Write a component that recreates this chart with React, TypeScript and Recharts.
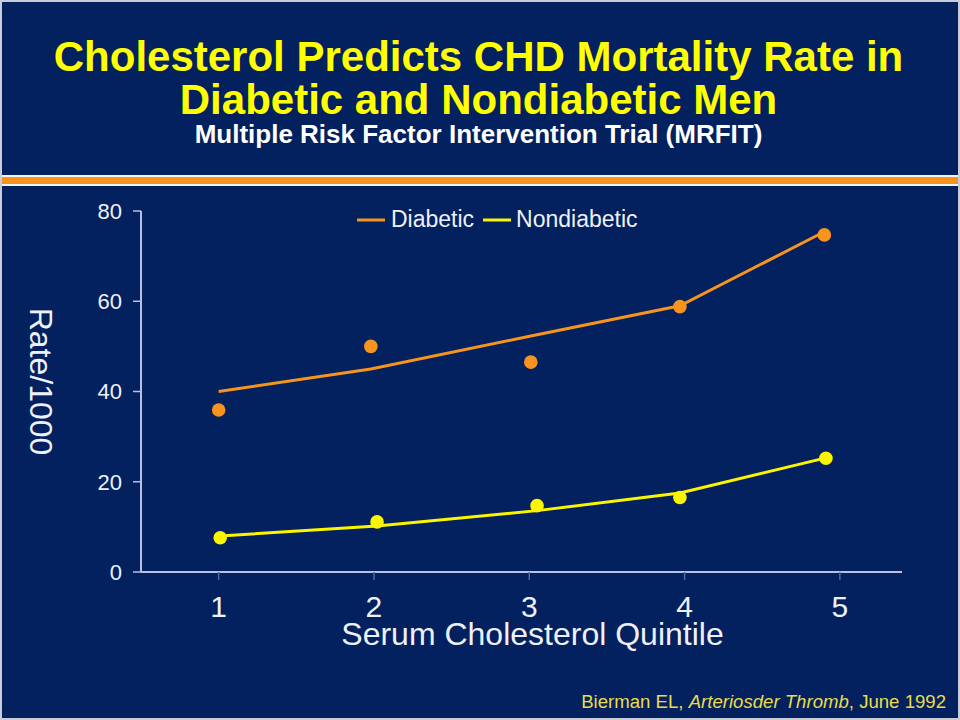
import { ComposedChart, Line, Scatter, XAxis, YAxis, Legend } from "recharts";

// quintile ticks and rate ticks
const quintiles = [1, 2, 3, 4, 5];
const rateTicks = [0, 20, 40, 60, 80];

// where each quintile point sits along the axis, as drawn
const diabeticX = [1.0, 1.98, 3.01, 3.97, 4.9];
const diabeticRates = [35.9, 50.0, 46.5, 58.8, 74.7];
const diabeticFit = [40.0, 45.0, 52.3, 59.0, 75.4];

const nondiabeticX = [1.01, 2.02, 3.05, 3.97, 4.91];
const nondiabeticRates = [7.6, 11.1, 14.7, 16.5, 25.2];
const nondiabeticFit = [8.0, 10.2, 13.6, 17.5, 25.3];

const BG = "#03205f";
const ORANGE = "#f6941e";
const YELLOW = "#fbf500";
const AXIS = "#b9c1dc";
const TEXT = "#eef1f8";
const SANS = "'Liberation Sans', Arial, sans-serif";

const diabeticPoints = diabeticX.map((x, i) => ({
  x,
  rate: diabeticRates[i],
  fit: diabeticFit[i],
}));
const nondiabeticPoints = nondiabeticX.map((x, i) => ({
  x,
  rate: nondiabeticRates[i],
  fit: nondiabeticFit[i],
}));

const dot = (color: string) => (props: any) =>
  <circle cx={props.cx} cy={props.cy} r={6.8} fill={color} />;

const YTitle = (props: any) => {
  const vb = props.viewBox;
  const x = vb.x + 41;
  const y = vb.y + vb.height / 2 - 10;
  return (
    <text
      x={x}
      y={y}
      transform={`rotate(90 ${x} ${y})`}
      textAnchor="middle"
      dominantBaseline="central"
      fill={TEXT}
      fontSize={32}
      fontFamily={SANS}
    >
      Rate/1000
    </text>
  );
};

const XTitle = (props: any) => {
  const vb = props.viewBox;
  return (
    <text
      x={vb.x + vb.width / 2 + 11}
      y={vb.y + 73}
      textAnchor="middle"
      fill={TEXT}
      fontSize={32}
      fontFamily={SANS}
    >
      Serum Cholesterol Quintile
    </text>
  );
};

const LegendBox = () => (
  <div style={{ display: "flex", alignItems: "center", fontFamily: SANS, fontSize: 23, color: TEXT }}>
    <svg width={30} height={6} style={{ marginRight: 5 }}>
      <line x1={1} y1={3} x2={29} y2={3} stroke={ORANGE} strokeWidth={3} />
    </svg>
    <span style={{ marginRight: 8 }}>Diabetic</span>
    <svg width={30} height={6} style={{ marginRight: 4 }}>
      <line x1={1} y1={3} x2={29} y2={3} stroke={YELLOW} strokeWidth={3} />
    </svg>
    <span>Nondiabetic</span>
  </div>
);

export default function App() {
  return (
    <div style={{ position: "relative", width: 960, height: 720, background: BG, overflow: "hidden" }}>
      <style>{"body{margin:0}"}</style>

      <div
        style={{
          position: "absolute",
          top: 35,
          left: 0,
          width: 957,
          textAlign: "center",
          fontFamily: SANS,
          fontWeight: 700,
          color: "#ffff00",
          fontSize: 42,
          lineHeight: "43px",
        }}
      >
        <div>Cholesterol Predicts CHD Mortality Rate in</div>
        <div>Diabetic and Nondiabetic Men</div>
        <div style={{ fontSize: 26, lineHeight: "30px", color: "#ffffff", marginTop: -2 }}>
          Multiple Risk Factor Intervention Trial (MRFIT)
        </div>
      </div>

      <div style={{ position: "absolute", top: 175, left: 0, width: 960, height: 2, background: "#f4f4f4" }} />
      <div style={{ position: "absolute", top: 177, left: 0, width: 960, height: 7, background: ORANGE }} />
      <div style={{ position: "absolute", top: 184, left: 0, width: 960, height: 2, background: "#f4f4f4" }} />

      <div style={{ position: "absolute", top: 0, left: 0 }}>
        <ComposedChart width={960} height={720} margin={{ top: 211, right: 58, bottom: 88, left: 0 }}>
          <XAxis
            type="number"
            dataKey="x"
            domain={[0.5, 5.4]}
            ticks={quintiles}
            allowDataOverflow
            tickSize={8}
            tickMargin={16}
            height={60}
            axisLine={{ stroke: AXIS, strokeWidth: 2 }}
            tickLine={{ stroke: "#4a68b0", strokeWidth: 1.5 }}
            tick={{ fill: TEXT, fontSize: 30, fontFamily: SANS }}
            label={XTitle}
          />
          <YAxis
            type="number"
            domain={[0, 80]}
            ticks={rateTicks}
            width={141}
            tickSize={8}
            tickMargin={11}
            axisLine={{ stroke: AXIS, strokeWidth: 2 }}
            tickLine={{ stroke: AXIS, strokeWidth: 1.5 }}
            tick={{ fill: TEXT, fontSize: 22, fontFamily: SANS }}
            label={YTitle}
          />
          <Legend
            layout="horizontal"
            verticalAlign="middle"
            align="center"
            wrapperStyle={{ top: 206, left: 356, width: 320 }}
            content={() => <LegendBox />}
          />
          <Line
            data={diabeticPoints}
            dataKey="fit"
            name="Diabetic"
            stroke={ORANGE}
            strokeWidth={3}
            dot={false}
            activeDot={false}
            isAnimationActive={false}
          />
          <Line
            data={nondiabeticPoints}
            dataKey="fit"
            name="Nondiabetic"
            stroke={YELLOW}
            strokeWidth={3}
            dot={false}
            activeDot={false}
            isAnimationActive={false}
          />
          <Scatter
            data={diabeticPoints}
            dataKey="rate"
            fill={ORANGE}
            shape={dot(ORANGE)}
            legendType="none"
            isAnimationActive={false}
          />
          <Scatter
            data={nondiabeticPoints}
            dataKey="rate"
            fill={YELLOW}
            shape={dot(YELLOW)}
            legendType="none"
            isAnimationActive={false}
          />
        </ComposedChart>
      </div>

      <div
        style={{
          position: "absolute",
          top: 691,
          right: 14,
          fontFamily: SANS,
          fontSize: 18.6,
          color: "#e9dc4c",
          whiteSpace: "nowrap",
        }}
      >
        Bierman EL, <i>Arteriosder Thromb</i>, June 1992
      </div>

      <div
        style={{
          position: "absolute",
          inset: 0,
          border: "2px solid #c9cdd8",
          pointerEvents: "none",
        }}
      />
    </div>
  );
}
